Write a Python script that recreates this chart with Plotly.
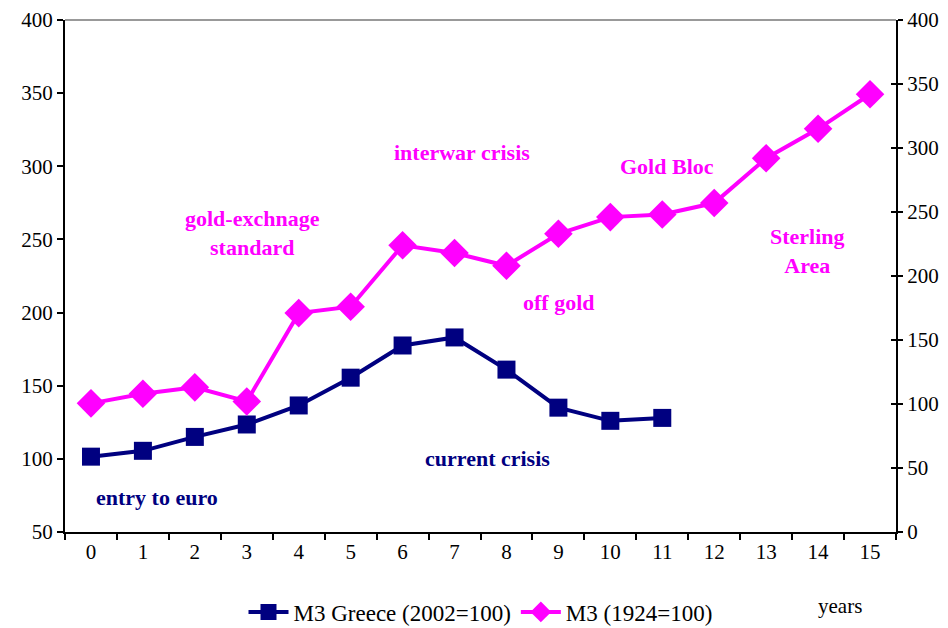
import plotly.graph_objects as go

years = list(range(16))
greece_m3 = [101.5, 105.5, 115, 123.5, 136.5, 155.5, 177.5, 183, 161, 135, 126, 128]
interwar_m3 = [100.5, 108, 113, 102, 171, 176, 224, 218, 208, 233, 246, 248, 257, 292, 315, 342]
greece_name = "M3 Greece (2002=100)"
interwar_name = "M3 (1924=100)"

NAVY = "#000080"
MAGENTA = "#FF00FF"
FONT = "Liberation Serif"

L, R, T, B = 65, 52, 20, 96
W, H = 948, 628
PW, PH = W - L - R, H - T - B

def px(x):
    return (x - L) / PW

def py(y):
    return (H - B - y) / PH

fig = go.Figure()
fig.add_trace(go.Scatter(
    x=[str(v) for v in years[:len(greece_m3)]], y=greece_m3, name=greece_name,
    mode="lines+markers", line=dict(color=NAVY, width=4),
    marker=dict(symbol="square", size=18, color=NAVY), yaxis="y"))
fig.add_trace(go.Scatter(
    x=[str(v) for v in years], y=interwar_m3, name=interwar_name,
    mode="lines+markers", line=dict(color=MAGENTA, width=4),
    marker=dict(symbol="diamond", size=22, color=MAGENTA), yaxis="y2"))

ann = [
    ("entry to euro", 157, 497, NAVY),
    ("current crisis", 487, 458, NAVY),
    ("gold-exchnage<br>standard", 252, 233, MAGENTA),
    ("interwar crisis", 462, 152, MAGENTA),
    ("Gold Bloc", 667, 166, MAGENTA),
    ("off gold", 559, 302, MAGENTA),
    ("Sterling<br>Area", 807, 251, MAGENTA),
]
annotations = []
for text, x, y, c in ann:
    annotations.append(dict(text="<b>" + text + "</b>", x=px(x), y=py(y), xref="paper", yref="paper",
                            showarrow=False, xanchor="center", yanchor="middle",
                            font=dict(family=FONT, size=22, color=c)))
annotations.append(dict(text="years", x=px(840), y=py(606), xref="paper", yref="paper",
                        showarrow=False, xanchor="center", yanchor="middle",
                        font=dict(family=FONT, size=21, color="black")))

tickfont = dict(family=FONT, size=21, color="black")
fig.update_layout(
    width=W, height=H, margin=dict(l=L, r=R, t=T, b=B, autoexpand=False),
    paper_bgcolor="white", plot_bgcolor="white",
    font=dict(family=FONT, size=20, color="black"),
    showlegend=True,
    legend=dict(orientation="h", x=0.5, xanchor="center", yref="container",
                y=1 - 612 / H, yanchor="middle", itemwidth=40,
                font=dict(family=FONT, size=23, color="black")),
    xaxis=dict(type="category", categoryorder="array", categoryarray=[str(v) for v in years],
               range=[-0.5, 15.5], tickson="boundaries", ticks="outside", ticklen=6,
               tickwidth=2, tickcolor="black", showline=True, linecolor="black", linewidth=2,
               showgrid=False, zeroline=False, tickfont=tickfont),
    yaxis=dict(range=[50, 400], dtick=50, ticks="outside", ticklen=6, tickwidth=2,
               tickcolor="black", showline=True, linecolor="black", linewidth=2,
               showgrid=False, zeroline=False, tickfont=tickfont),
    yaxis2=dict(range=[0, 400], dtick=50, overlaying="y", side="right", ticks="outside",
                ticklen=5, tickwidth=2, tickcolor="black", showline=True, linecolor="black",
                linewidth=2, showgrid=False, zeroline=False, tickfont=tickfont),
    yaxis3=dict(range=[0, 400], dtick=50, overlaying="y", side="right", anchor="x",
                ticks="inside", ticklen=5, tickwidth=2, tickcolor="black",
                showticklabels=False, showline=False, showgrid=False, zeroline=False),
    annotations=annotations,
    shapes=[dict(type="line", xref="paper", yref="paper", x0=0, x1=1, y0=1, y1=1,
                 line=dict(color="#999999", width=2))],
)
fig.add_trace(go.Scatter(x=["0"], y=[0], yaxis="y3", showlegend=False, hoverinfo="skip",
                         mode="markers", marker=dict(opacity=0)))

fig.write_html("out.html")
